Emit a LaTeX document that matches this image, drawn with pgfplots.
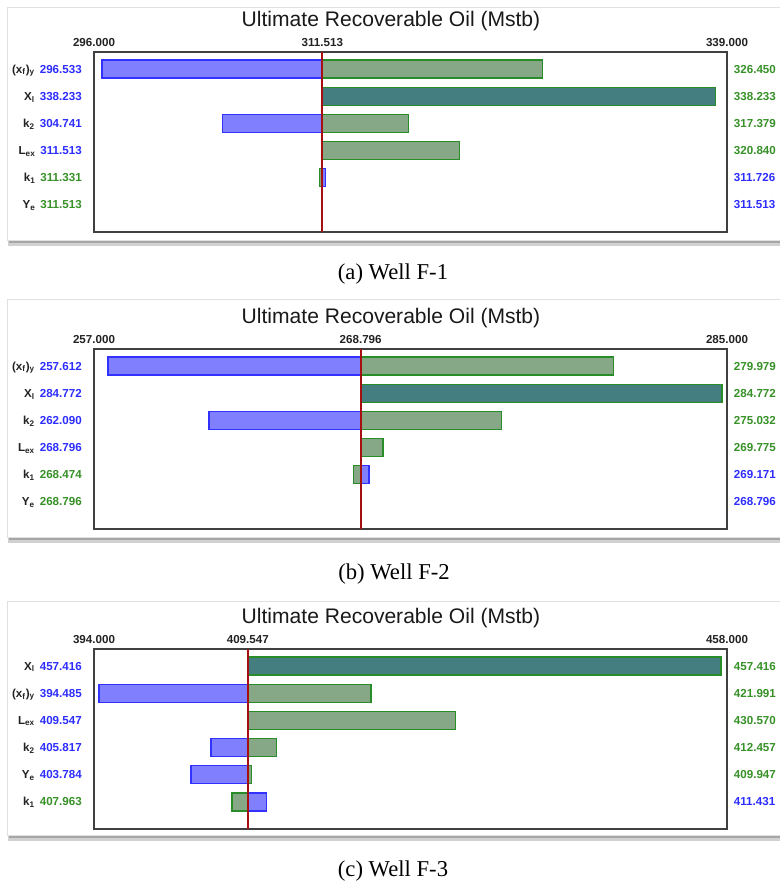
\documentclass[border=0pt]{standalone}
\usepackage{pgfplots}
\pgfplotsset{compat=1.18}
\usepackage{pgfplotstable}
\usepackage{fontspec}
\setmainfont{Liberation Sans}
\newfontfamily\capfont{Liberation Serif}

\definecolor{barblue}{RGB}{128,128,255}
\definecolor{edgeblue}{RGB}{50,50,255}
\definecolor{bargreen}{RGB}{134,168,134}
\definecolor{edgegreen}{RGB}{40,140,40}
\definecolor{barteal}{RGB}{69,126,128}
\definecolor{txtblue}{RGB}{45,45,255}
\definecolor{txtgreen}{RGB}{55,145,40}
\definecolor{baseln}{RGB}{165,15,15}
\definecolor{labc}{RGB}{35,35,35}

% r = row (0 = top), b = blue-bar value, g = green-bar value, t = both equal (teal bar)
\pgfplotstableread{
r b g t
0 296.533 326.450 nan
1 338.233 338.233 338.233
2 304.741 317.379 nan
3 311.513 320.840 nan
4 311.726 311.331 nan
5 311.513 311.513 nan
}\tabA
\pgfplotstableread{
r b g t
0 257.612 279.979 nan
1 284.772 284.772 284.772
2 262.090 275.032 nan
3 268.796 269.775 nan
4 269.171 268.474 nan
5 268.796 268.796 nan
}\tabB
\pgfplotstableread{
r b g t
0 457.416 457.416 457.416
1 394.485 421.991 nan
2 409.547 430.570 nan
3 405.817 412.457 nan
4 403.784 409.947 nan
5 411.431 407.963 nan
}\tabC

\newcommand{\XFY}{(x\textsubscript{f})\textsubscript{y}}
\newcommand{\XL}{X\textsubscript{l}}
\newcommand{\KT}{k\textsubscript{2}}
\newcommand{\LEX}{L\textsubscript{ex}}
\newcommand{\KO}{k\textsubscript{1}}
\newcommand{\YE}{Y\textsubscript{e}}
\newcommand{\lab}[3]{\textcolor{labc}{#1}\hspace{3.75pt}\textcolor{#3}{#2}}

\pgfplotsset{
  tornado/.style={
    anchor=north west, scale only axis, width=474.75pt, height=135pt,
    y dir=reverse, ymin=-0.63, ymax=6, ytick={0,1,2,3,4,5},
    major tick length=0pt,
    /pgf/number format/assume math mode=true,
    axis line style={draw=black!75, line width=0.9pt},
    xticklabel pos=upper,
    xticklabel style={font=\bfseries\fontsize{8.7}{10}\selectfont, text=labc, inner sep=0pt, yshift=4pt},
    yticklabel style={font=\bfseries\fontsize{8.7}{10}\selectfont, inner sep=0pt, anchor=base east, xshift=-9pt, yshift=-3.1pt},
  },
  tornadoR/.style={
    anchor=north west, scale only axis, width=474.75pt, height=135pt,
    y dir=reverse, ymin=-0.63, ymax=6, ytick={0,1,2,3,4,5},
    xmin=0, xmax=1, hide x axis, axis y line*=right,
    y axis line style={draw=none}, major tick length=0pt,
    yticklabel pos=right,
    yticklabel style={font=\bfseries\fontsize{8.7}{10}\selectfont, inner sep=0pt, anchor=base west, xshift=5pt, yshift=-3.1pt},
  },
}

\newcommand{\panel}[8]{%
\begin{axis}[tornado, at={(70.5pt,-#1*0.75pt)}, xmin=#4, xmax=#5, xtick={#4,0,#5}, xticklabels={#6}, yticklabels={#7}]
\addplot[xbar, bar width=13.5pt, bar shift=0pt, fill=barblue, draw=edgeblue, line width=1.1pt] table[x expr=\thisrow{b}-#3, y=r] {#2};
\addplot[xbar, bar width=13.5pt, bar shift=0pt, fill=bargreen, draw=edgegreen, line width=1.1pt] table[x expr=\thisrow{g}-#3, y=r] {#2};
\addplot[xbar, bar width=13.5pt, bar shift=0pt, fill=barteal, draw=edgegreen, line width=1.1pt] table[x expr=\thisrow{t}-#3, y=r] {#2};
\draw[baseln, line width=1.5pt] (axis cs:0,-0.63) -- (axis cs:0,6);
\end{axis}
\begin{axis}[tornadoR, at={(70.5pt,-#1*0.75pt)}, yticklabels={#8}]
\end{axis}
}

\begin{document}
\begin{tikzpicture}
\begin{scope}[x=0.75pt, y=-0.75pt]
\useasboundingbox (0,0) rectangle (780,884);
% panel frames with shadows
\foreach \t/\b in {7/240, 299/537, 601/835}{
  \fill[black!18] (8,\b-2) rectangle (790,\b+6);
  \fill[black!35] (9,\b-2) rectangle (790,\b+3);
  \filldraw[fill=white, draw=black!12] (7,\t) rectangle (790,\b);
}
\foreach \y in {27, 323, 623}{
  \node[anchor=base, font=\fontsize{15.8}{18}\selectfont, text=black!90] at (391,\y) {Ultimate Recoverable Oil (Mstb)};
}
\node[anchor=base, font=\capfont\fontsize{17}{20}\selectfont] at (393,279) {(a) Well F-1};
\node[anchor=base, font=\capfont\fontsize{17}{20}\selectfont] at (394,579) {(b) Well F-2};
\node[anchor=base, font=\capfont\fontsize{17}{20}\selectfont] at (393,876) {(c) Well F-3};
\end{scope}

\panel{52}{\tabA}{311.513}{-15.513}{27.487}{296.000,311.513,339.000}%
{{\lab{\XFY}{296.533}{txtblue}},{\lab{\XL}{338.233}{txtblue}},{\lab{\KT}{304.741}{txtblue}},{\lab{\LEX}{311.513}{txtblue}},{\lab{\KO}{311.331}{txtgreen}},{\lab{\YE}{311.513}{txtgreen}}}%
{{\textcolor{txtgreen}{326.450}},{\textcolor{txtgreen}{338.233}},{\textcolor{txtgreen}{317.379}},{\textcolor{txtgreen}{320.840}},{\textcolor{txtblue}{311.726}},{\textcolor{txtblue}{311.513}}}

\panel{349}{\tabB}{268.796}{-11.796}{16.204}{257.000,268.796,285.000}%
{{\lab{\XFY}{257.612}{txtblue}},{\lab{\XL}{284.772}{txtblue}},{\lab{\KT}{262.090}{txtblue}},{\lab{\LEX}{268.796}{txtblue}},{\lab{\KO}{268.474}{txtgreen}},{\lab{\YE}{268.796}{txtgreen}}}%
{{\textcolor{txtgreen}{279.979}},{\textcolor{txtgreen}{284.772}},{\textcolor{txtgreen}{275.032}},{\textcolor{txtgreen}{269.775}},{\textcolor{txtblue}{269.171}},{\textcolor{txtblue}{268.796}}}

\panel{649}{\tabC}{409.547}{-15.547}{48.453}{394.000,409.547,458.000}%
{{\lab{\XL}{457.416}{txtblue}},{\lab{\XFY}{394.485}{txtblue}},{\lab{\LEX}{409.547}{txtblue}},{\lab{\KT}{405.817}{txtblue}},{\lab{\YE}{403.784}{txtblue}},{\lab{\KO}{407.963}{txtgreen}}}%
{{\textcolor{txtgreen}{457.416}},{\textcolor{txtgreen}{421.991}},{\textcolor{txtgreen}{430.570}},{\textcolor{txtgreen}{412.457}},{\textcolor{txtgreen}{409.947}},{\textcolor{txtblue}{411.431}}}
\end{tikzpicture}
\end{document}
